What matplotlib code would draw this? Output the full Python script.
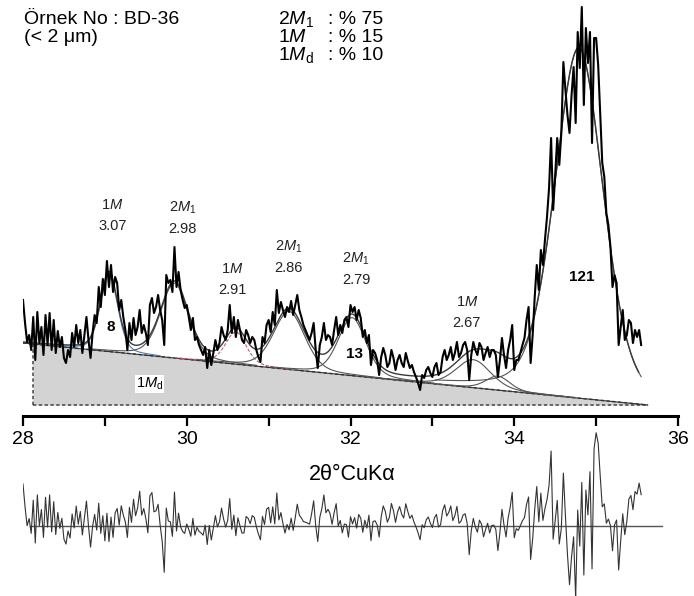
import numpy as np
import matplotlib
matplotlib.use("Agg")
import matplotlib.pyplot as plt
from matplotlib.ticker import MultipleLocator

plt.rcParams['font.family'] = ['Liberation Sans', 'DejaVu Sans']
plt.rcParams['mathtext.fontset'] = 'custom'
plt.rcParams['mathtext.rm'] = 'Liberation Sans'
plt.rcParams['mathtext.it'] = 'Liberation Sans:italic'
plt.rcParams['mathtext.bf'] = 'Liberation Sans:bold'

# ---- step scan (2theta start / step, counts above the plot floor) ----
two_theta_start = 28.0
two_theta_step = 0.025
counts = [
    105, 82, 63, 70, 55, 88, 45, 93, 62, 78,
    50, 90, 60, 92, 55, 85, 52, 74, 58, 68,
    47, 42, 55, 48, 72, 58, 80, 62, 75, 52,
    70, 88, 65, 47, 72, 90, 82, 118, 98, 126,
    110, 144, 118, 140, 113, 128, 122, 95, 105, 88,
    75, 55, 82, 65, 87, 70, 78, 95, 72, 80,
    72, 60, 100, 107, 92, 98, 110, 95, 85, 60,
    130, 122, 125, 113, 158, 118, 133, 115, 105, 97,
    100, 88, 75, 87, 65, 68, 60, 55, 50, 58,
    37, 55, 40, 52, 65, 55, 62, 78, 70, 65,
    75, 100, 72, 88, 68, 85, 75, 65, 62, 75,
    70, 62, 68, 65, 55, 48, 43, 68, 62, 80,
    85, 73, 93, 80, 115, 92, 103, 95, 88, 98,
    93, 104, 90, 100, 110, 95, 88, 80, 75, 70,
    65, 72, 82, 55, 37, 60, 68, 82, 65, 70,
    68, 60, 75, 88, 70, 80, 72, 85, 88, 78,
    100, 93, 98, 85, 95, 87, 68, 75, 62, 70,
    40, 55, 52, 45, 30, 48, 57, 50, 38, 42,
    55, 47, 35, 45, 50, 42, 38, 52, 44, 37,
    40, 33, 28, 22, 15, 30, 27, 35, 38, 32,
    28, 38, 42, 30, 33, 48, 55, 45, 50, 58,
    45, 52, 63, 48, 52, 60, 63, 55, 25, 50,
    63, 55, 50, 62, 58, 45, 52, 58, 48, 55,
    55, 50, 28, 45, 67, 50, 37, 55, 65, 80,
    35, 45, 45, 52, 60, 67, 85, 98, 42, 70,
    108, 140, 115, 155, 140, 165, 188, 217, 267, 195,
    230, 267, 240, 272, 343, 315, 290, 272, 310, 338,
    282, 373, 337, 398, 300, 377, 342, 373, 262, 367,
    367, 340, 290, 242, 228, 192, 180, 158, 118, 130,
    122, 60, 78, 95, 65, 70, 85, 82, 62, 75,
    68, 75, 60,
]
two_theta = two_theta_start + two_theta_step * np.arange(len(counts))
counts = np.array(counts, dtype=float)

# ---- fitted model: linear background (1Md) + pseudo-Voigt peaks ----
bg_start = (28.0, 62.0)
bg_end = (35.63, 0.0)
peak_centres = [29.05, 29.85, 30.60, 31.25, 32.02, 33.50, 33.80, 34.79]
peak_heights = [78, 75, 32, 58, 58, 28, 14, 350]
peak_fwhm = [0.25, 0.40, 0.30, 0.45, 0.40, 0.50, 0.35, 0.70]
lorentz_fraction = 0.3

# peak annotations: phase, d-spacing, position
label_phase = [r"1$M$", r"2$M_\mathrm{1}$", r"1$M$", r"2$M_\mathrm{1}$",
               r"2$M_\mathrm{1}$", r"1$M$"]
label_d = ["3.07", "2.98", "2.91", "2.86", "2.79", "2.67"]
label_x = [29.09, 29.95, 30.56, 31.24, 32.07, 33.42]
label_y = [200, 197, 136, 158, 146, 103]

# polytype proportions
polytypes = [r"2$M_\mathrm{1}$", r"1$M$", r"1$M_\mathrm{d}$"]
percent = [75, 15, 10]


def background(x):
    (x0, y0), (x1, y1) = bg_start, bg_end
    return y0 + (y1 - y0) * (np.asarray(x) - x0) / (x1 - x0)


def pseudo_voigt(x, c, h, w):
    u = (np.asarray(x) - c) / w
    gauss = np.exp(-4 * np.log(2) * u ** 2)
    lorentz = 1.0 / (1.0 + 4 * u ** 2)
    return h * (lorentz_fraction * lorentz + (1 - lorentz_fraction) * gauss)


def model(x):
    total = background(x)
    for c, h, w in zip(peak_centres, peak_heights, peak_fwhm):
        total = total + pseudo_voigt(x, c, h, w)
    return total


W, H = 694, 596
fig = plt.figure(figsize=(W / 100, H / 100), dpi=100)


def px_rect(x0, y0, x1, y1):
    return [x0 / W, 1 - y1 / H, (x1 - x0) / W, (y1 - y0) / H]


ax = fig.add_axes(px_rect(23, 0, 678, 416))
ax.set_xlim(28, 36)
ax.set_ylim(-11, 405)

# 1Md background area
x_fill = np.linspace(28.12, bg_end[0], 200)
ax.fill_between(x_fill, 0, background(x_fill), color='#d3d3d3', lw=0, zorder=1)
dash = dict(color='#444444', lw=1.1, ls=(0, (2.2, 1.6)), zorder=2)
x_bg = np.linspace(28.0, bg_end[0], 200)
ax.plot(x_bg, background(x_bg), **dash)
ax.plot([28.12, bg_end[0]], [0, 0], **dash)
ax.plot([28.12, 28.12], [0, background(28.12)], **dash)
ax.plot(x_bg, background(x_bg), color='#333333', lw=0.8, zorder=2)

# individual fitted components
comp_colors = ['#4a7fb0', '#555555', '#c0607a', '#555555', '#555555',
               '#555555', '#555555', '#555555']
comp_styles = ['-', '-', (0, (3, 1.5)), '-', '-', '-', '-', '-']
for c, h, w, col, ls in zip(peak_centres, peak_heights, peak_fwhm,
                            comp_colors, comp_styles):
    xs = np.linspace(max(28.0, c - 2.5 * w), min(35.55, c + 2.5 * w), 200)
    ax.plot(xs, background(xs) + pseudo_voigt(xs, c, h, w),
            color=col, lw=0.8, ls=ls, zorder=3)

# total fit
x_fit = np.linspace(28.0, 35.52, 900)
ax.plot(x_fit, model(x_fit), color='#3a3a3a', lw=1.0, zorder=4)

# observed pattern
ax.plot(two_theta, counts, color='black', lw=1.5, zorder=5)

# peak labels
for ph, d, x, y in zip(label_phase, label_d, label_x, label_y):
    ax.text(x, y, ph, ha='center', va='center', fontsize=10.5, color='#222222', zorder=6)
    ax.text(x, y - 21, d, ha='center', va='center', fontsize=10.5, color='#222222', zorder=6)

box = dict(facecolor='white', edgecolor='none', pad=0.6)
ax.text(34.83, 128, "121", ha='center', va='center', fontsize=11,
        fontweight='bold', zorder=6)
ax.text(29.07, 78, "8", ha='center', va='center', fontsize=11,
        fontweight='bold', bbox=box, zorder=6)
ax.text(32.05, 51, "13", ha='center', va='center', fontsize=11,
        fontweight='bold', zorder=6)
ax.text(29.55, 21, r"1$M_\mathrm{d}$", ha='center', va='center', fontsize=10.5,
        bbox=box, zorder=6)

# x axis
for s in ['top', 'right', 'left']:
    ax.spines[s].set_visible(False)
ax.spines['bottom'].set_linewidth(2.2)
ax.spines['bottom'].set_position(('data', -11))
ax.set_yticks([])
ax.xaxis.set_major_locator(MultipleLocator(2))
ax.xaxis.set_minor_locator(MultipleLocator(1))
ax.tick_params(axis='x', which='both', direction='out', length=7, width=1.6)
ax.tick_params(axis='x', which='major', labelsize=14, pad=4)
ax.patch.set_alpha(0)

fig.text(352 / W, 1 - 474 / H, "2θ°CuKα", ha='center', va='center', fontsize=15.5)

# residuals (observed - calculated)
residual = counts - model(two_theta)
axr = fig.add_axes(px_rect(23, 420, 678, 596))
axr.set_xlim(28, 36)
axr.set_ylim(-70, 106)
axr.axis('off')
axr.plot([28.09, 35.8], [0, 0], color='#555555', lw=1.0)
axr.plot(two_theta, residual, color='#333333', lw=0.8)

# sample header
fig.text(24 / W, 1 - 19 / H, "Örnek No : BD-36", ha='left', va='center', fontsize=14)
fig.text(24 / W, 1 - 38 / H, "(< 2 μm)", ha='left', va='center', fontsize=14)
for i, (pt, pc) in enumerate(zip(polytypes, percent)):
    y = 1 - (19 + 18 * i) / H
    fig.text(278 / W, y, pt, ha='left', va='center', fontsize=14)
    fig.text(328 / W, y, f": % {pc}", ha='left', va='center', fontsize=14)

fig.savefig("out.png", dpi=100)
